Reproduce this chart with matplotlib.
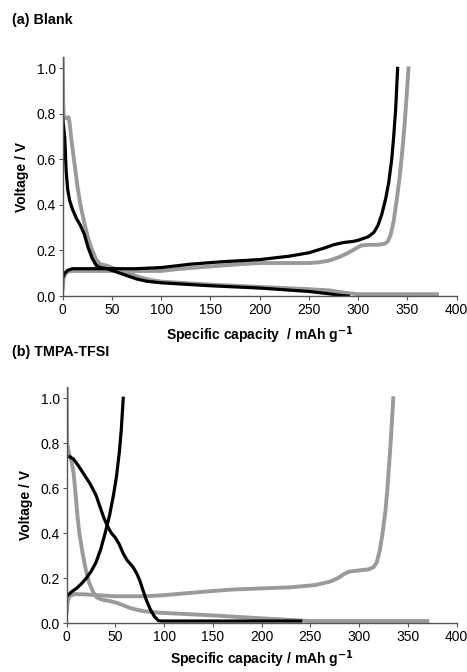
import numpy as np
import matplotlib
matplotlib.use("Agg")
import matplotlib.pyplot as plt

plt.rcParams['font.family'] = ['Liberation Sans', 'DejaVu Sans']

# (a) Blank - black cycle
a_blk_dis_x = [0, 2, 3.5, 5, 7, 10, 14, 18, 22, 26, 30, 34, 38, 45, 55, 65, 75, 85, 100,
               150, 200, 250, 270, 280, 290]
a_blk_dis_y = [0.78, 0.7, 0.55, 0.47, 0.42, 0.38, 0.34, 0.31, 0.27, 0.21, 0.165, 0.135, 0.125,
               0.12, 0.105, 0.09, 0.075, 0.065, 0.058, 0.045, 0.035, 0.02, 0.01, 0.004, 0.0]
a_blk_chg_x = [0, 2, 5, 10, 40, 75, 100, 130, 160, 200, 230, 250, 265, 275, 285, 295, 300,
               310, 316, 320, 324, 328, 331, 334, 336, 338, 340]
a_blk_chg_y = [0.08, 0.1, 0.113, 0.12, 0.12, 0.12, 0.125, 0.14, 0.15, 0.16, 0.175, 0.19, 0.21,
               0.225, 0.235, 0.24, 0.245, 0.26, 0.28, 0.31, 0.36, 0.43, 0.5, 0.6, 0.7, 0.82, 1.0]

# (a) Blank - grey cycle
a_gry_dis_x = [0, 0.5, 1, 2, 6, 7, 9, 12, 15, 18, 22, 26, 30, 34, 38, 45, 50, 60, 70, 80, 90,
               100, 150, 200, 250, 270, 285, 300, 380]
a_gry_dis_y = [1.06, 0.85, 0.8, 0.78, 0.785, 0.76, 0.68, 0.58, 0.48, 0.4, 0.32, 0.25, 0.2,
               0.16, 0.14, 0.133, 0.125, 0.11, 0.095, 0.08, 0.07, 0.063, 0.05, 0.04, 0.03,
               0.025, 0.015, 0.008, 0.008]
a_gry_chg_x = [0, 1, 3, 6, 10, 50, 100, 120, 150, 180, 200, 250, 260, 270, 280, 290, 298, 303,
               310, 320, 327, 330, 333, 336, 339, 342, 345, 347, 349, 351]
a_gry_chg_y = [0.03, 0.08, 0.1, 0.108, 0.11, 0.11, 0.11, 0.12, 0.13, 0.14, 0.145, 0.145, 0.148,
               0.155, 0.17, 0.19, 0.21, 0.222, 0.225, 0.225, 0.23, 0.24, 0.27, 0.33, 0.42, 0.52,
               0.65, 0.75, 0.87, 1.0]

# (b) TMPA-TFSI - black cycle
b_blk_dis_x = [3, 7, 12, 18, 24, 30, 34, 38, 42, 46, 50, 54, 58, 62, 68, 72, 75, 78, 82,
               86, 90, 94, 97, 240]
b_blk_dis_y = [0.74, 0.73, 0.7, 0.66, 0.62, 0.57, 0.52, 0.47, 0.43, 0.4, 0.38, 0.35,
               0.31, 0.28, 0.25, 0.22, 0.19, 0.15, 0.1, 0.06, 0.03, 0.012, 0.01, 0.01]
b_blk_chg_x = [0, 5, 10, 15, 20, 25, 30, 35, 40, 44, 48, 51, 54, 56, 58]
b_blk_chg_y = [0.12, 0.14, 0.155, 0.175, 0.2, 0.23, 0.27, 0.33, 0.41, 0.48, 0.57, 0.65, 0.76,
               0.86, 1.0]

# (b) TMPA-TFSI - grey cycle
b_gry_dis_x = [0, 0.5, 2, 5, 7, 9, 11, 13, 16, 19, 23, 27, 31, 36, 45, 52, 58, 65, 72, 80, 95,
               150, 200, 250, 370]
b_gry_dis_y = [1.06, 0.8, 0.76, 0.72, 0.67, 0.58, 0.48, 0.4, 0.32, 0.25, 0.18, 0.14, 0.115,
               0.105, 0.098, 0.09, 0.08, 0.068, 0.06, 0.053, 0.047, 0.035, 0.022, 0.01, 0.01]
b_gry_chg_x = [0, 1, 3, 8, 20, 50, 80, 100, 140, 170, 200, 230, 255, 270, 278, 285, 290, 300,
               310, 315, 318, 321, 324, 327, 329, 331, 333, 335]
b_gry_chg_y = [0.05, 0.1, 0.12, 0.13, 0.128, 0.12, 0.12, 0.125, 0.14, 0.15, 0.155, 0.16, 0.17,
               0.185, 0.2, 0.22, 0.23, 0.235, 0.24, 0.25, 0.27, 0.32, 0.4, 0.5, 0.6, 0.72, 0.85,
               1.0]

BLACK = '#000000'
GREY = '#9a9a9a'

fig = plt.figure(figsize=(4.67, 6.72), dpi=100)
ax1 = fig.add_axes([0.1343, 0.5595, 0.8437, 0.3557])
ax2 = fig.add_axes([0.1428, 0.0725, 0.835, 0.3516])

panels = [
    (ax1, a_gry_dis_x, a_gry_dis_y, a_gry_chg_x, a_gry_chg_y,
     a_blk_dis_x, a_blk_dis_y, a_blk_chg_x, a_blk_chg_y),
    (ax2, b_gry_dis_x, b_gry_dis_y, b_gry_chg_x, b_gry_chg_y,
     b_blk_dis_x, b_blk_dis_y, b_blk_chg_x, b_blk_chg_y),
]

for ax, gdx, gdy, gcx, gcy, bdx, bdy, bcx, bcy in panels:
    ax.plot(gdx, gdy, color=GREY, lw=2.8, solid_joinstyle='round')
    ax.plot(gcx, gcy, color=GREY, lw=2.8, solid_joinstyle='round')
    ax.plot(bdx, bdy, color=BLACK, lw=2.3, solid_joinstyle='round')
    ax.plot(bcx, bcy, color=BLACK, lw=2.3, solid_joinstyle='round')
    ax.set_xlim(0, 400)
    ax.set_ylim(0, 1.05)
    ax.set_xticks(np.arange(0, 401, 50))
    ax.set_yticks(np.arange(0, 1.01, 0.2))
    ax.yaxis.set_major_formatter(matplotlib.ticker.FormatStrFormatter('%.1f'))
    for s in ['top', 'right']:
        ax.spines[s].set_visible(False)
    for s in ['left', 'bottom']:
        ax.spines[s].set_color('#555555')
        ax.spines[s].set_linewidth(1.0)
    ax.tick_params(direction='out', length=3, width=0.8, color='#555555',
                   labelsize=10, pad=2)
    ax.set_ylabel('Voltage / V', fontsize=10, fontweight='bold', labelpad=5)

ax1.set_xlabel('Specific capacity  / mAh g$^{\\mathbf{-1}}$', fontsize=10, fontweight='bold', labelpad=5)
ax2.set_xlabel('Specific capacity / mAh g$^{\\mathbf{-1}}$', fontsize=10, fontweight='bold', labelpad=3)

fig.text(0.025, 0.970, '(a) Blank', fontsize=10.3, fontweight='bold', va='center')
fig.text(0.025, 0.476, '(b) TMPA-TFSI', fontsize=10.3, fontweight='bold', va='center')

fig.savefig('out.png', dpi=100)
